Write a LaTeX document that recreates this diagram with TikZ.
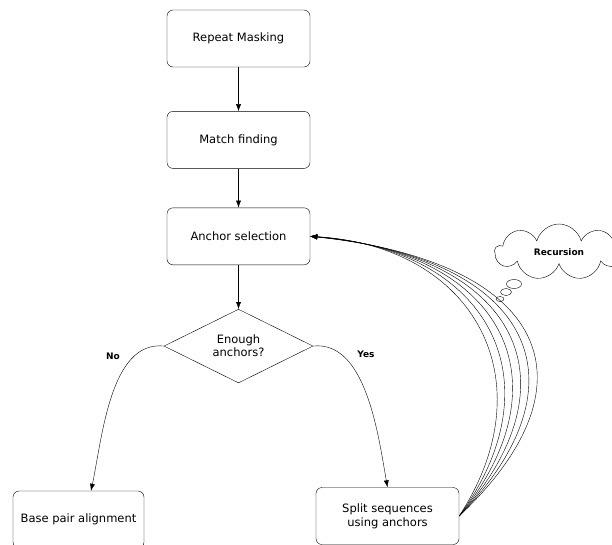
\documentclass[tikz,border=0pt]{standalone}
\usepackage{fontspec}
\setmainfont{DejaVu Sans}
\usepackage{tikz}
\usetikzlibrary{arrows.meta, positioning, shapes.geometric, shapes.symbols}

\begin{document}
\begin{tikzpicture}[x=1pt,y=1pt,>={Latex[length=7pt,width=5pt]},thin,
                    main node/.style={rectangle,rounded corners=6pt,draw,align=center,
                                      minimum width=143pt,minimum height=57pt,
                                      font=\fontsize{11.5}{14}\selectfont},
                    choice node/.style={diamond,draw,align=center,inner sep=0pt,
                                        minimum width=149pt,minimum height=72pt,
                                        font=\fontsize{11.5}{13}\selectfont},
                    tag node/.style={font=\fontsize{9}{11}\selectfont\bfseries}]

  \useasboundingbox (0,0) rectangle (612,-544);

  \node[main node] (1) at (238.5,-38.5) {Repeat Masking};
  \node[main node] (2) [below=44pt of 1] {Match finding};
  \node[main node] (3) [below=39pt of 2] {Anchor selection};
  \node[choice node] (4) [below=44pt of 3] {Enough\\anchors?};

  \node[main node,minimum width=131pt] (5) at (78.5,-519.5) {Base pair alignment};
  \node[main node] (6) at (387.5,-516) {Split sequences\\using anchors};

  \path[->]
    (1) edge (2)
    (2) edge (3)
    (3) edge (4);

  \draw[->] (4.west) to[out=174,in=78,looseness=0.85] ([xshift=12.5pt]5.north);
  \draw[->] (4.east) to[out=6,in=100,looseness=0.85] (6.north);

  \node[tag node] (no) at (113,-356) {No};
  \node[tag node] (yes) at (366,-354) {Yes};

  % recursion back to anchor selection
  \foreach \i in {0,...,5}
    \draw[->] (6.east) .. controls +(88+11*\i,135) and +(165+14*\i,-10-3*\i) .. (3.east);

  \node[cloud,draw,cloud puffs=9,aspect=2.2,minimum width=128pt,minimum height=56pt,
        font=\fontsize{9}{11}\selectfont\bfseries] (C) at (559,-252) {Recursion};
  \node[ellipse,draw,inner sep=0pt,minimum width=15pt,minimum height=9pt] (C1) at (514,-284) {};
  \node[ellipse,draw,inner sep=0pt,minimum width=11pt,minimum height=7pt] (C2) at (506,-292) {};
  \node[ellipse,draw,inner sep=0pt,minimum width=8pt,minimum height=5pt] (C3) at (500,-299) {};

\end{tikzpicture}
\end{document}
